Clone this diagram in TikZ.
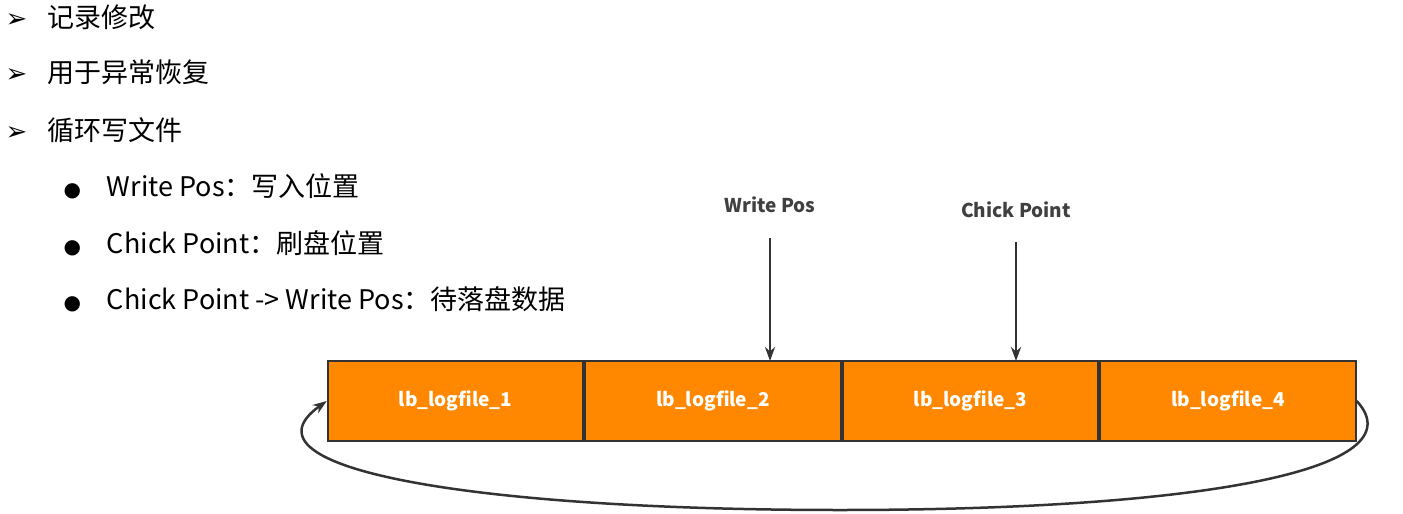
\documentclass[tikz,border=0pt]{standalone}
\usepackage{fontspec}
\setmainfont{Noto Sans CJK SC}
\newfontfamily\symfont{DejaVu Sans}
\usetikzlibrary{arrows.meta,positioning}
\definecolor{logorange}{RGB}{255,136,0}
\tikzset{
  logbox/.style={rectangle, draw=black!80, line width=2pt, fill=logorange, minimum width=255.5pt, minimum height=80pt, font=\fontsize{19}{22}\selectfont\bfseries, text=white, inner sep=0pt},
  marker/.style={font=\fontsize{19}{22}\selectfont\bfseries, text=black!75},
  point/.style={-{Stealth[length=14pt,width=10pt]}, line width=2.5pt, black!80},
  topitem/.style={anchor=west, font=\fontsize{27}{30}\selectfont},
  subitem/.style={anchor=west, font=\fontsize{27}{30}\selectfont}
}
\begin{document}
\begin{tikzpicture}[x=1pt,y=-1pt]
  \useasboundingbox[fill=white] (0,0) rectangle (1403,514);
  % list
  \node (t1) [topitem] at (2,17) {{\symfont\fontsize{26}{28}\selectfont ➢}\hspace{20pt}记录修改};
  \node (t2) [topitem] at (2,72) {{\symfont\fontsize{26}{28}\selectfont ➢}\hspace{20pt}用于异常恢复};
  \node (t3) [topitem] at (2,130) {{\symfont\fontsize{26}{28}\selectfont ➢}\hspace{20pt}循环写文件};
  \node (s1) [subitem] at (60,186) {{\symfont\fontsize{20}{22}\selectfont ●}\hspace{26pt}Write Pos：写入位置};
  \node (s2) [subitem] at (60,243) {{\symfont\fontsize{20}{22}\selectfont ●}\hspace{26pt}Chick Point：刷盘位置};
  \node (s3) [subitem] at (60,299) {{\symfont\fontsize{20}{22}\selectfont ●}\hspace{26pt}Chick Point -> Write Pos：待落盘数据};
  % log files
  \node (f1) [logbox] at (455.5,401) {lb\_logfile\_1};
  \node (f2) [logbox, right=0pt of f1] {lb\_logfile\_2};
  \node (f3) [logbox, right=0pt of f2] {lb\_logfile\_3};
  \node (f4) [logbox, right=0pt of f3] {lb\_logfile\_4};
  % markers
  \node (wp) [marker] at (770,205) {Write Pos};
  \node (cp) [marker] at (1016,210) {Chick Point};
  \coordinate (wpend) at (770,361);
  \coordinate (cpend) at (1016,361);
  \draw [point] (770,238) -- (wpend);
  \draw [point] (1016,242) -- (cpend);
  % loop
  \draw [-{Stealth[length=14pt,width=10pt]}, line width=2.5pt, black!80]
    (f4.east) .. controls (1420,470) and (1200,510) .. (840,510)
    .. controls (480,510) and (230,470) .. (f1.west);
\end{tikzpicture}
\end{document}
